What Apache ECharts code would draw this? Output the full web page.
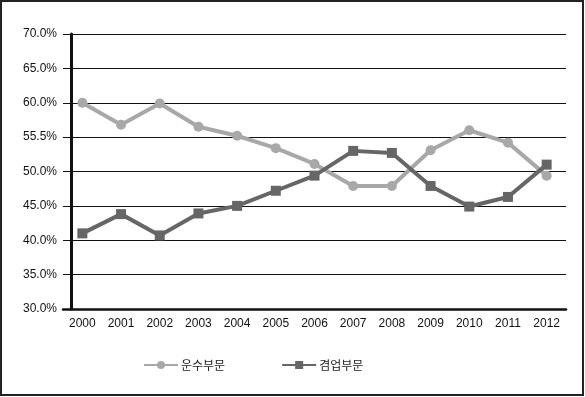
<!DOCTYPE html>
<html>
<head>
<meta charset="utf-8">
<script src="https://cdn.jsdelivr.net/npm/echarts@6/dist/echarts.min.js"></script>
<style>
  html, body { margin: 0; padding: 0; background: #fff; }
  #chart { width: 585px; height: 397px; }
</style>
</head>
<body>
<div id="chart"></div>
<script>
const years = ['2000', '2001', '2002', '2003', '2004', '2005', '2006', '2007', '2008', '2009', '2010', '2011', '2012']
const transport = [60.0, 56.8, 59.9, 56.5, 55.2, 53.4, 51.1, 47.9, 47.9, 53.1, 56.0, 54.2, 49.4]
const combined = [41.0, 43.8, 40.7, 43.9, 45.0, 47.2, 49.4, 53.0, 52.7, 47.9, 44.9, 46.3, 51.0]
// 원본 그림 그대로 (55.5% 표기 포함)
const yTickLabels = ['30.0%', '35.0%', '40.0%', '45.0%', '50.0%', '55.5%', '60.0%', '65.0%', '70.0%']

const chart = echarts.init(document.getElementById('chart'))

const option = {
  backgroundColor: '#fff',
  animation: false,
  textStyle: { fontFamily: 'Liberation Sans, Arial, sans-serif' },
  graphic: [
    {
      type: 'rect',
      shape: { x: 1, y: 1, width: 582, height: 394 },
      style: { fill: 'none', stroke: '#222', lineWidth: 2 },
      silent: true
    }
  ],
  grid: {
    left: 63,
    top: 34,
    width: 503,
    height: 275
  },
  legend: {
    top: 354,
    left: 138,
    itemWidth: 34,
    itemHeight: 10,
    itemGap: 56,
    textStyle: {
      fontFamily: 'Noto Sans CJK KR',
      fontSize: 12,
      color: '#222',
      padding: [0, 0, 0, -2]
    },
    data: ['운수부문', '겸업부문']
  },
  xAxis: {
    type: 'category',
    data: years,
    boundaryGap: true,
    axisLine: { lineStyle: { color: '#111', width: 2.5 } },
    axisTick: { alignWithLabel: true, length: 5, lineStyle: { color: '#111' } },
    axisLabel: { color: '#111', fontSize: 12, margin: 9 },
    splitLine: { show: false }
  },
  yAxis: {
    type: 'value',
    min: 30,
    max: 70,
    interval: 5,
    offset: -8,
    axisLine: { show: true, lineStyle: { color: '#111', width: 3 } },
    axisTick: { show: true, length: 6, lineStyle: { color: '#111' } },
    axisLabel: {
      color: '#111',
      fontSize: 12,
      margin: 14,
      formatter: (v) => yTickLabels[Math.round((v - 30) / 5)]
    },
    splitLine: { show: true, lineStyle: { color: '#111', width: 1 } }
  },
  series: [
    {
      name: '운수부문',
      type: 'line',
      data: transport,
      symbol: 'circle',
      symbolSize: 10,
      lineStyle: { color: '#a8a8a8', width: 4 },
      itemStyle: { color: '#a8a8a8' }
    },
    {
      name: '겸업부문',
      type: 'line',
      data: combined,
      symbol: 'rect',
      symbolSize: 10,
      lineStyle: { color: '#666', width: 4 },
      itemStyle: { color: '#666' }
    }
  ]
}

chart.setOption(option)
</script>
</body>
</html>
